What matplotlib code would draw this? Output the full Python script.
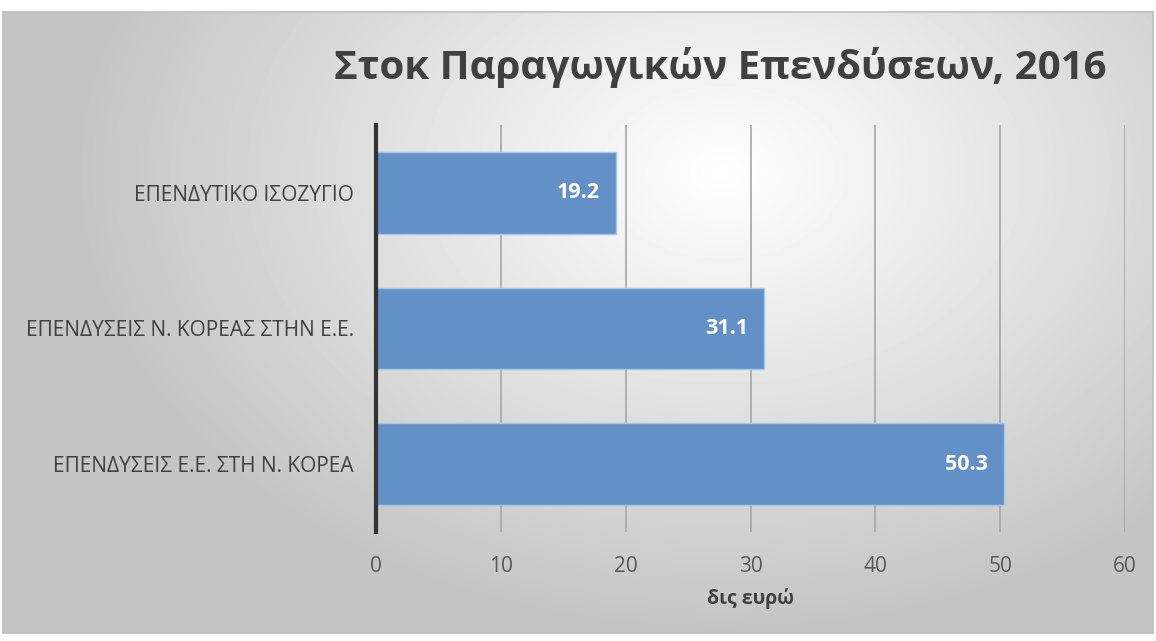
#!/usr/bin/env python3

import numpy as np
import matplotlib.pyplot as plt

categories = ['ΕΠΕΝΔΥΣΕΙΣ Ε.Ε. ΣΤΗ Ν. ΚΟΡΕΑ',
              'ΕΠΕΝΔΥΣΕΙΣ Ν. ΚΟΡΕΑΣ ΣΤΗΝ Ε.Ε.',
              'ΕΠΕΝΔΥΤΙΚΟ ΙΣΟΖΥΓΙΟ']
values = [50.3, 31.1, 19.2]
xticks = [0, 10, 20, 30, 40, 50, 60]
title = 'Στοκ Παραγωγικών Επενδύσεων, 2016'
xlabel = 'δις ευρώ'

plt.rcParams['font.family'] = ['Open Sans', 'DejaVu Sans']

W, H = 1156, 641


def main():
    fig = plt.figure(figsize=(W / 100, H / 100), dpi=100)
    fig.patch.set_facecolor('white')

    # background panel with radial gradient
    bg = fig.add_axes([3 / W, 1 - 633 / H, 1150 / W, (633 - 12) / H])
    yy, xx = np.mgrid[0:621, 0:1150]
    d = np.sqrt(((xx - 720) / 850.0) ** 2 + ((yy - 160) / 600.0) ** 2)
    g = np.clip(1.0 - 0.30 * d, 0.77, 1.0)
    bg.imshow(g, cmap='gray', vmin=0, vmax=1, aspect='auto',
              interpolation='bilinear')
    bg.set_xticks([])
    bg.set_yticks([])
    for s in bg.spines.values():
        s.set_color('#bfbfbf')
        s.set_linewidth(1.2)

    ax = fig.add_axes([376 / W, 1 - 532 / H, (1125 - 376) / W, (532 - 125) / H])
    ax.patch.set_alpha(0)
    y = np.arange(len(categories))
    bars = ax.barh(y, values, height=0.6, color='#6490c8',
                   edgecolor='#a9c4e6', linewidth=1.0, zorder=3)
    for b, v in zip(bars, values):
        ax.text(v - 1.3, b.get_y() + b.get_height() / 2, f'{v:.1f}',
                ha='right', va='center', color='white', fontsize=15.5,
                fontweight='bold', zorder=4)

    ax.set_xlim(0, 60)
    ax.set_ylim(-0.5, 2.5)
    ax.set_xticks(xticks)
    ax.set_yticks(y)
    ax.set_yticklabels(categories)
    ax.grid(axis='x', color='#a6a6a6', linewidth=1.2, zorder=1)
    ax.tick_params(axis='both', length=0, colors='#595959', labelsize=15)
    ax.tick_params(axis='x', pad=17)
    ax.tick_params(axis='y', pad=16, labelcolor='#404040', labelsize=15)
    for s in ['top', 'right', 'bottom']:
        ax.spines[s].set_visible(False)
    ax.spines['left'].set_color('#333333')
    ax.spines['left'].set_linewidth(3)
    ax.spines['left'].set_zorder(5)

    ax.set_xlabel(xlabel, fontsize=14, fontweight='bold', color='#404040',
                  labelpad=8)

    fig.text(720 / W, 1 - 68 / H, title, ha='center', va='center',
             fontsize=29, fontweight='bold', color='#404040')

    fig.savefig('out.png', dpi=100)


if __name__ == "__main__":
    main()
